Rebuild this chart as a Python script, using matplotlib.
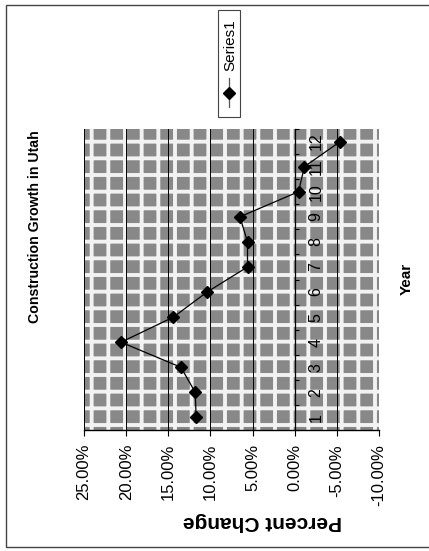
import matplotlib
matplotlib.use('Agg')
import matplotlib.pyplot as plt
from matplotlib.patches import Rectangle
from matplotlib.lines import Line2D

# ---- data ----
years = ['1', '2', '3', '4', '5', '6', '7', '8', '9', '10', '11', '12']
pct_change = [11.7, 11.8, 13.5, 20.6, 14.4, 10.4, 5.6, 5.6, 6.5, -0.45, -1.15, -5.4]
value_ticks = [25, 20, 15, 10, 5, 0, -5, -10]
value_labels = [f'{v:.2f}%' for v in value_ticks]
chart_title = 'Construction Growth in Utah'
cat_title = 'Year'
val_title = 'Percent Change'
series_name = 'Series1'

plt.rcParams['font.family'] = ['Liberation Sans', 'DejaVu Sans']
plt.rcParams['hatch.linewidth'] = 2.8

W, H = 429, 551
fig = plt.figure(figsize=(W / 100, H / 100), dpi=100)
ax = fig.add_axes([84 / W, 1 - 430 / H, 295 / W, 301 / H])

# patterned plot-area background
ax.set_facecolor('#888888')
ax.add_patch(Rectangle((0, 0), 1, 1, transform=ax.transAxes, facecolor='none',
                       edgecolor='#f2f2f2', hatch='+', lw=0, zorder=0.5))

positions = list(range(1, len(years) + 1))
ax.plot(pct_change, positions, color='black', lw=0.9, marker='D', ms=6.5, zorder=3)

ax.set_xlim(value_ticks[0], value_ticks[-1])
ax.set_ylim(0.5, len(years) + 0.5)

ax.set_xticks(value_ticks)
ax.set_xticklabels(value_labels, rotation=90, fontsize=12)
ax.tick_params(axis='x', length=4, width=0.8, pad=6, direction='out')
ax.set_axisbelow('line')
ax.grid(axis='x', color='black', lw=0.7)
ax.grid(axis='y', visible=False)

for s in ['top', 'left']:
    ax.spines[s].set_visible(False)
ax.spines['bottom'].set_linewidth(1.0)
ax.spines['right'].set_position(('data', 0))
ax.spines['right'].set_linewidth(0.9)

ax.yaxis.tick_right()
ax.set_yticks(positions)
ax.set_yticklabels(years, rotation=90, fontsize=11.5, va='center')
ax.set_yticks([p - 0.5 for p in positions] + [len(years) + 0.5], minor=True)
ax.tick_params(axis='y', which='major', length=0, pad=10)
ax.tick_params(axis='y', which='minor', length=3, width=0.8, direction='out',
               right=True, left=False)

# titles
fig.text(35 / W, 1 - 227 / H, chart_title, rotation=90, ha='center', va='center',
         fontsize=10.2, fontweight='bold')
fig.text(407 / W, 1 - 279 / H, cat_title, rotation=90, ha='center', va='center',
         fontsize=11, fontweight='bold')
fig.text(262 / W, 1 - 521 / H, val_title, rotation=180, ha='center', va='center',
         fontsize=15, fontweight='bold')

# legend (rotated, drawn manually)
fig.add_artist(Rectangle((218 / W, 1 - 117 / H), 22 / W, 107 / H,
                         transform=fig.transFigure, facecolor='white',
                         edgecolor='#444444', lw=0.8))
fig.add_artist(Line2D([229 / W, 229 / W], [1 - 107 / H, 1 - 78 / H],
                      transform=fig.transFigure, color='#555555', lw=0.9))
fig.add_artist(Line2D([229 / W], [1 - 93 / H], transform=fig.transFigure,
                      color='black', marker='D', ms=6, lw=0))
fig.text(230 / W, 1 - 45 / H, series_name, rotation=90, ha='center', va='center',
         fontsize=11)

# chart-area frame
fig.add_artist(Rectangle((6 / W, 1 - 547 / H), 430 / W, 542 / H,
                         transform=fig.transFigure, facecolor='none',
                         edgecolor='#444444', lw=1.0))

fig.savefig('out.png', dpi=100)
